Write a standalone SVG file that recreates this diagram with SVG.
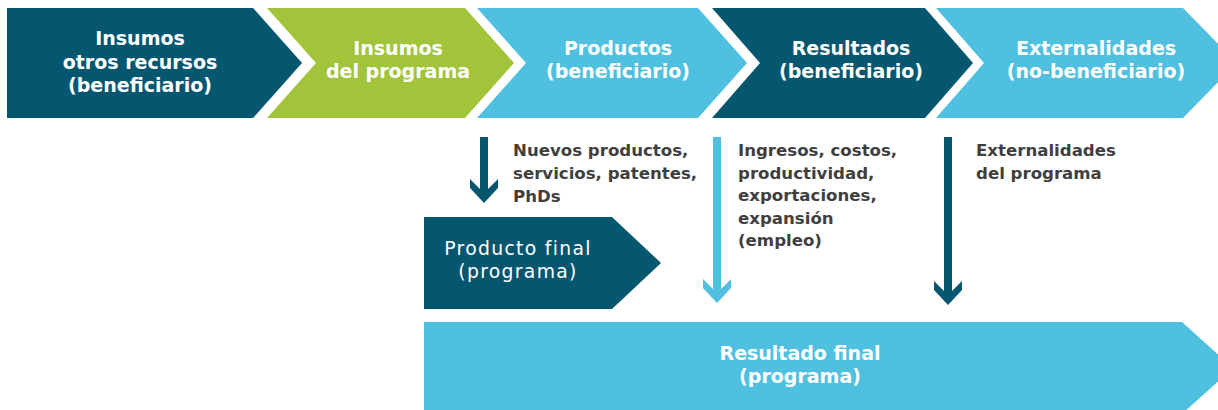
<svg xmlns="http://www.w3.org/2000/svg" width="1218" height="410" viewBox="0 0 1218 410">
<style>
.dark{fill:#05566F}
.green{fill:#A2C43A}
.light{fill:#4FC0E0}
.h{font-family:"DejaVu Sans","Liberation Sans",sans-serif;font-weight:bold;font-size:19px;fill:#ffffff;text-anchor:middle}
.m{font-family:"DejaVu Sans","Liberation Sans",sans-serif;font-size:18.8px;fill:#ffffff;text-anchor:middle;letter-spacing:1.3px}
.b{font-family:"DejaVu Sans","Liberation Sans",sans-serif;font-weight:bold;font-size:16.6px;fill:#3F3F3F}
</style>
<rect width="1218" height="410" fill="#ffffff"/>
<g id="insumos-otros">
<polygon class="dark" points="7,8 253,8 302,63 253,118 7,118"/>
<text class="h" x="140" y="45">Insumos</text>
<text class="h" x="140" y="68.5">otros recursos</text>
<text class="h" x="140" y="92">(beneficiario)</text>
</g>
<g id="insumos-programa">
<polygon class="green" points="267,8 465,8 514,63 465,118 267,118 316,63"/>
<text class="h" x="398" y="55">Insumos</text>
<text class="h" x="398" y="78">del programa</text>
</g>
<g id="productos">
<polygon class="light" points="477,8 698,8 747,63 698,118 477,118 526,63"/>
<text class="h" x="618" y="55">Productos</text>
<text class="h" x="618" y="78">(beneficiario)</text>
</g>
<g id="resultados">
<polygon class="dark" points="712,8 925,8 973,63 925,118 712,118 760,63"/>
<text class="h" x="851" y="55">Resultados</text>
<text class="h" x="851" y="78">(beneficiario)</text>
</g>
<g id="externalidades">
<polygon class="light" points="936,8 1183,8 1237,63 1183,118 936,118 984,63"/>
<text class="h" x="1096" y="55">Externalidades</text>
<text class="h" x="1096" y="78">(no-beneficiario)</text>
</g>
<g id="producto-final">
<polygon class="dark" points="424,217 612,217 661,263 612,309 424,309"/>
<text class="m" x="518" y="255">Producto final</text>
<text class="m" x="518" y="278">(programa)</text>
</g>
<g id="resultado-final">
<polygon class="light" points="424,322 1182,322 1233,368 1182,414 424,414"/>
<text class="h" x="800" y="360">Resultado final</text>
<text class="h" x="800" y="383">(programa)</text>
</g>
<g id="connectors">
<polygon class="dark" points="480,137 488,137 488,189 498,179 498,188 484,203 470,188 470,179 480,189"/>
<polygon class="light" points="713,137 721,137 721,289 731,279 731,288 717,303 703,288 703,279 713,289"/>
<polygon class="dark" points="944,137 952,137 952,291 962,281 962,290 948,305 934,290 934,281 944,291"/>
</g>
<g id="labels">
<text class="b" x="513" y="156">Nuevos productos,</text>
<text class="b" x="513" y="179">servicios, patentes,</text>
<text class="b" x="513" y="202">PhDs</text>
<text class="b" x="738" y="156">Ingresos, costos,</text>
<text class="b" x="738" y="178.5">productividad,</text>
<text class="b" x="738" y="201">exportaciones,</text>
<text class="b" x="738" y="223.5">expansión</text>
<text class="b" x="738" y="246">(empleo)</text>
<text class="b" x="976" y="156">Externalidades</text>
<text class="b" x="976" y="179">del programa</text>
</g>
</svg>
